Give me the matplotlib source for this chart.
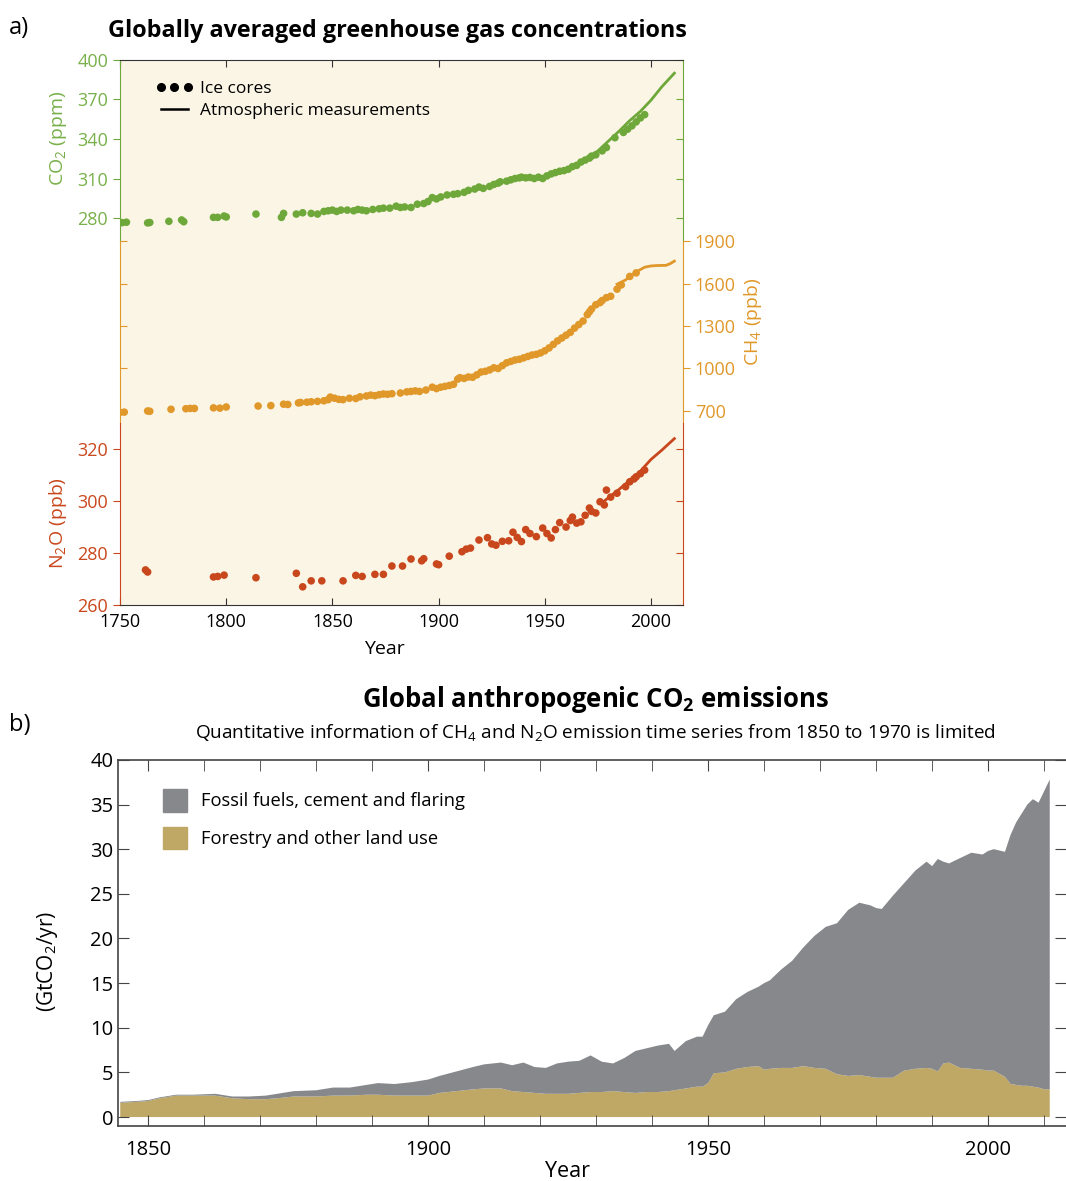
import numpy as np
import matplotlib.pyplot as plt
from matplotlib.lines import Line2D
from matplotlib.patches import Patch
from matplotlib.ticker import MultipleLocator

plt.rcParams['font.family'] = ['Open Sans', 'DejaVu Sans']
plt.rcParams['mathtext.default'] = 'regular'

# ---- panel a data: ice cores (dots) and atmospheric measurements (lines)
co2_ice_years = [1751, 1753, 1763, 1764, 1773, 1779, 1780, 1794, 1796, 1799, 1800, 1814, 1826, 1827,
                 1833, 1836, 1840, 1843, 1846, 1848, 1850, 1852, 1854, 1857, 1860, 1862, 1864, 1866,
                 1869, 1872, 1874, 1877, 1880, 1882, 1884, 1887, 1890, 1893, 1895, 1897, 1899, 1901,
                 1904, 1907, 1909, 1912, 1914, 1917, 1919, 1921, 1924, 1926, 1928, 1929, 1932, 1934,
                 1936, 1938, 1939, 1941, 1943, 1945, 1947, 1949, 1951, 1953, 1955, 1957, 1959, 1961,
                 1963, 1965, 1967, 1969, 1971, 1972, 1974, 1977, 1979, 1983, 1987, 1989, 1991, 1993,
                 1995, 1997]
co2_ice = [276.5, 276.8, 276.3, 276.6, 277.5, 278.5, 277.2, 280.5, 280.5, 281.5, 280.8, 283.0, 280.5, 283.5,
           283.0, 284.0, 283.5, 283.0, 285.0, 285.5, 286.0, 285.0, 286.0, 286.0, 285.5, 286.5, 286.0, 285.5,
           286.5, 287.0, 287.5, 287.5, 289.0, 288.0, 288.4, 288.0, 290.5, 291.0, 292.5, 295.5, 294.5, 296.0,
           297.5, 298.0, 298.5, 299.5, 301.0, 302.0, 303.5, 302.5, 304.0, 305.5, 306.5, 307.5, 308.0, 309.0,
           310.0, 310.5, 311.0, 310.5, 310.8, 310.0, 311.0, 310.0, 312.0, 313.5, 314.5, 315.5, 316.0, 317.0,
           319.0, 320.0, 322.5, 324.0, 325.5, 327.0, 328.0, 331.0, 333.5, 341.0, 345.0, 347.5, 350.0, 353.0,
           356.0, 358.5]
co2_atm_years = [1958, 1960, 1965, 1970, 1975, 1980, 1985, 1990, 1995, 2000, 2005, 2011]
co2_atm = [315.5, 317.0, 320.0, 325.5, 331.0, 338.5, 346.0, 354.0, 361.0, 369.5, 379.5, 390.0]

ch4_ice_years = [1750, 1752, 1763, 1764, 1774, 1781, 1783, 1785, 1794, 1797, 1800, 1815, 1821, 1827,
                 1829, 1834, 1835, 1838, 1840, 1843, 1846, 1848, 1849, 1851, 1853, 1855, 1858, 1861,
                 1863, 1866, 1868, 1870, 1872, 1874, 1876, 1878, 1882, 1885, 1887, 1889, 1891, 1894,
                 1897, 1899, 1901, 1903, 1905, 1907, 1909, 1910, 1912, 1914, 1916, 1918, 1920, 1922,
                 1924, 1926, 1928, 1930, 1932, 1934, 1936, 1938, 1940, 1942, 1944, 1946, 1948, 1950,
                 1952, 1954, 1956, 1958, 1960, 1962, 1964, 1966, 1968, 1970, 1971, 1972, 1974, 1976,
                 1977, 1979, 1981, 1984, 1986, 1990, 1993]
ch4_ice = [690, 692, 700, 698, 712, 716, 718, 718, 722, 720, 728, 735, 738, 748,
           746, 757, 760, 762, 765, 768, 772, 780, 798, 790, 782, 780, 790, 788,
           800, 806, 812, 808, 815, 820, 818, 822, 827, 835, 838, 842, 838, 848,
           868, 858, 868, 874, 880, 888, 925, 935, 930, 940, 938, 955, 975, 980,
           990, 1005, 1000, 1020, 1040, 1050, 1060, 1065, 1075, 1085, 1095, 1100, 1110, 1125,
           1145, 1170, 1195, 1215, 1235, 1255, 1285, 1310, 1335, 1380, 1400, 1420, 1450, 1465,
           1480, 1500, 1510, 1560, 1590, 1650, 1675]
ch4_atm_years = [1984, 1988, 1991, 1994, 1997, 2000, 2003, 2007, 2009, 2011]
ch4_atm = [1595, 1625, 1660, 1690, 1715, 1724, 1727, 1728, 1740, 1758]

n2o_ice_years = [1762, 1763, 1794, 1796, 1799, 1814, 1833, 1836, 1840, 1845, 1855, 1861, 1864, 1870,
                 1874, 1878, 1883, 1887, 1892, 1893, 1899, 1900, 1905, 1911, 1913, 1915, 1919, 1923,
                 1925, 1927, 1930, 1933, 1935, 1937, 1939, 1941, 1943, 1946, 1949, 1951, 1953, 1955,
                 1957, 1960, 1962, 1963, 1965, 1967, 1969, 1971, 1972, 1974, 1976, 1978, 1979, 1981,
                 1984, 1988, 1990, 1992, 1993, 1995, 1997]
n2o_ice = [273.5, 272.7, 270.8, 271.0, 271.5, 270.5, 272.2, 267.0, 269.3, 269.3, 269.3, 271.4, 271.0, 271.8,
           271.8, 275.0, 275.0, 277.7, 277.0, 277.8, 275.8, 275.5, 278.8, 280.5, 281.5, 281.9, 285.0, 285.9,
           283.5, 283.0, 284.5, 284.7, 288.0, 286.0, 284.4, 289.0, 287.5, 286.3, 289.6, 287.5, 285.8, 289.0,
           291.7, 290.0, 292.5, 293.8, 291.5, 292.0, 294.5, 297.3, 296.0, 295.4, 299.7, 298.5, 304.2, 301.5,
           303.0, 305.5, 307.4, 308.5, 309.3, 310.5, 311.9]
n2o_atm_years = [1978, 1985, 1990, 1995, 2000, 2005, 2011]
n2o_atm = [300.0, 304.5, 308.0, 311.5, 316.0, 319.5, 324.0]

co2_ticks = [280, 310, 340, 370, 400]
ch4_ticks = [700, 1000, 1300, 1600, 1900]
n2o_ticks = [260, 280, 300, 320]

# ---- panel b data: GtCO2/yr
em_years = [1845, 1848, 1850, 1852, 1855, 1858, 1862, 1865, 1868, 1871, 1873, 1876, 1880, 1883,
            1886, 1889, 1891, 1894, 1897, 1900, 1902, 1905, 1908, 1910, 1913, 1915, 1917, 1919,
            1921, 1923, 1925, 1927, 1929, 1931, 1933, 1935, 1937, 1939, 1941, 1943, 1944, 1946,
            1948, 1949, 1950, 1951, 1953, 1955, 1957, 1959, 1960, 1961, 1963, 1965, 1967, 1969,
            1971, 1973, 1975, 1977, 1979, 1980, 1981, 1983, 1985, 1987, 1989, 1990, 1991, 1992,
            1993, 1995, 1997, 1999, 2000, 2001, 2003, 2004, 2005, 2006, 2007, 2008, 2009, 2010,
            2011]
folu = [1.6, 1.7, 1.8, 2.1, 2.4, 2.4, 2.4, 2.1, 2.0, 2.0, 2.1, 2.3, 2.3, 2.4,
        2.4, 2.5, 2.5, 2.4, 2.4, 2.4, 2.7, 2.9, 3.1, 3.2, 3.2, 2.9, 2.8, 2.7,
        2.6, 2.6, 2.6, 2.7, 2.8, 2.8, 2.9, 2.8, 2.7, 2.8, 2.8, 2.9, 3.0, 3.2,
        3.4, 3.4, 3.8, 4.9, 5.0, 5.4, 5.6, 5.7, 5.3, 5.4, 5.5, 5.5, 5.7, 5.5,
        5.4, 4.8, 4.6, 4.7, 4.5, 4.4, 4.4, 4.4, 5.2, 5.4, 5.5, 5.4, 5.1, 6.0,
        6.1, 5.5, 5.4, 5.3, 5.2, 5.2, 4.5, 3.7, 3.6, 3.5, 3.5, 3.4, 3.3, 3.1,
        3.1]
fossil = [0.1, 0.1, 0.1, 0.1, 0.1, 0.1, 0.2, 0.2, 0.3, 0.4, 0.5, 0.6, 0.7, 0.9,
          0.9, 1.1, 1.3, 1.3, 1.5, 1.8, 1.9, 2.2, 2.5, 2.7, 2.9, 2.9, 3.3, 2.9,
          2.9, 3.4, 3.6, 3.6, 4.1, 3.4, 3.1, 3.8, 4.7, 4.9, 5.2, 5.3, 4.4, 5.3,
          5.6, 5.6, 6.5, 6.5, 6.8, 7.8, 8.4, 8.9, 9.7, 9.9, 11.0, 12.0, 13.3, 14.8,
          15.9, 16.9, 18.6, 19.3, 19.2, 19.0, 18.9, 20.4, 21.0, 22.2, 23.1, 22.7, 23.8, 22.6,
          22.3, 23.5, 24.2, 24.1, 24.6, 24.8, 25.2, 27.9, 29.4, 30.5, 31.5, 32.2, 31.9, 33.4,
          34.7]

green = '#6fa83a'
green_txt = '#79b04a'
orange = '#e0982a'
red = '#c9471c'
cream = '#fbf5e6'
dark = '#333333'
gray = '#86888b'
tan = '#bfa866'

fig = plt.figure(figsize=(10.66, 11.81), dpi=100)

# ================= panel a =================
rect_a = [0.1126, 0.4877, 0.528, 0.4615]
ax_co2 = fig.add_axes(rect_a)
ax_ch4 = fig.add_axes(rect_a, label='ch4')
ax_n2o = fig.add_axes(rect_a, label='n2o')
ax_co2.set_facecolor(cream)
ax_ch4.set_facecolor('none')
ax_n2o.set_facecolor('none')

for ax in (ax_co2, ax_ch4, ax_n2o):
    ax.set_xlim(1750, 2015)
    for s in ax.spines.values():
        s.set_visible(False)

# each gas gets one third of the panel height
ax_co2.set_ylim(-13.9, 400)
ax_ch4.set_ylim(-670, 3178)
ax_n2o.set_ylim(260, 469.6)
bands = [(ax_co2, green, green_txt, co2_ticks, (262.5, 400), 'left'),
         (ax_ch4, orange, orange, ch4_ticks, (615, 1900), 'right'),
         (ax_n2o, red, red, n2o_ticks, (260, 330), 'left')]
for ax, col, tcol, ticks, bnd, side in bands:
    other = 'right' if side == 'left' else 'left'
    ax.spines[side].set_visible(True)
    ax.spines[side].set_color(col)
    ax.spines[side].set_bounds(*bnd)
    ax.set_yticks(ticks)
    if side == 'right':
        ax.yaxis.tick_right()
    else:
        ax.yaxis.tick_left()
    ax.tick_params(axis='y', direction='out', length=5, color=col, labelcolor=tcol, labelsize=13)
    sec = ax.secondary_yaxis(other)
    sec.set_yticks(ticks)
    sec.tick_params(direction='in', length=5, color=col, labelleft=False, labelright=False)
    sec.spines[other].set_color(col)
    sec.spines[other].set_bounds(*bnd)

ax_co2.spines['top'].set_visible(True)
ax_co2.spines['top'].set_color(dark)
ax_co2.xaxis.tick_top()
ax_co2.set_xticks(range(1750, 2001, 50))
ax_co2.tick_params(axis='x', direction='in', length=5, color=dark, labeltop=False)
ax_ch4.set_xticks([])
ax_n2o.spines['bottom'].set_visible(True)
ax_n2o.spines['bottom'].set_color(dark)
ax_n2o.set_xticks(range(1750, 2001, 50))
ax_n2o.tick_params(axis='x', direction='in', length=5, color=dark, labelsize=13, pad=6)
ax_n2o.set_xlabel('Year', fontsize=14)
ax_n2o.xaxis.set_label_coords(0.47, -0.065)

ax_co2.set_ylabel('CO$_2$ (ppm)', color=green_txt, fontsize=14)
ax_co2.yaxis.set_label_coords(-0.09, 0.857)
ax_ch4.set_ylabel('CH$_4$ (ppb)', color=orange, fontsize=14)
ax_ch4.yaxis.set_label_position('right')
ax_ch4.yaxis.set_label_coords(1.105, 0.52)
ax_n2o.set_ylabel('N$_2$O (ppb)', color=red, fontsize=14)
ax_n2o.yaxis.set_label_coords(-0.09, 0.15)

for ax, yi, vi, ya, va, col in [(ax_co2, co2_ice_years, co2_ice, co2_atm_years, co2_atm, green),
                                (ax_ch4, ch4_ice_years, ch4_ice, ch4_atm_years, ch4_atm, orange),
                                (ax_n2o, n2o_ice_years, n2o_ice, n2o_atm_years, n2o_atm, red)]:
    ax.plot(ya, va, color=col, lw=2)
    ax.scatter(yi, vi, s=30, color=col, edgecolors='none')

leg_a = ax_co2.legend(handles=[Line2D([], [], ls='none', marker='o', ms=5.5, color='black'),
                               Line2D([], [], color='black', lw=1.8)],
                      labels=['Ice cores', 'Atmospheric measurements'], numpoints=3,
                      loc='upper left', bbox_to_anchor=(0.035, 0.99), frameon=False,
                      fontsize=12.5, handlelength=2.2, handletextpad=0.4, labelspacing=0.35)

fig.text(0.373, 0.9735, 'Globally averaged greenhouse gas concentrations', ha='center', va='center',
         fontsize=16.8, fontweight='bold')
fig.text(0.008, 0.976, 'a)', fontsize=17, va='center')

# ================= panel b =================
ax_b = fig.add_axes([0.1107, 0.0466, 0.8893, 0.31])
ax_b.stackplot(em_years, folu, fossil, colors=[tan, gray], lw=0)
ax_b.set_xlim(1844.6, 2013.9)
ax_b.set_ylim(-1.0, 40)
ax_b.spines['right'].set_visible(False)
for s in ('left', 'top', 'bottom'):
    ax_b.spines[s].set_color('#444444')
    ax_b.spines[s].set_linewidth(1.2)
ax_b.set_xticks([1850, 1900, 1950, 2000])
ax_b.xaxis.set_minor_locator(MultipleLocator(10))
ax_b.set_yticks(range(0, 41, 5))
ax_b.tick_params(which='both', direction='in', top=True, right=True, length=8, color='#444444',
                 labelsize=14.5)
ax_b.tick_params(axis='x', pad=10)
ax_b.set_xlabel('Year', fontsize=15.5)
ax_b.xaxis.set_label_coords(0.474, -0.095)
ax_b.set_ylabel('(GtCO$_2$/yr)', fontsize=15)
ax_b.yaxis.set_label_coords(-0.061, 0.45)

ax_b.legend(handles=[Patch(color=gray), Patch(color=tan)],
            labels=['Fossil fuels, cement and flaring', 'Forestry and other land use'],
            loc='upper left', bbox_to_anchor=(0.03, 0.965), frameon=False, fontsize=13.2,
            handlelength=1.3, handleheight=1.5, labelspacing=0.85, handletextpad=0.8)

fig.text(0.559, 0.4073, 'Global anthropogenic CO$_2$ emissions', ha='center', va='center',
         fontsize=18.5, fontweight='bold')
fig.text(0.559, 0.3794, 'Quantitative information of CH$_4$ and N$_2$O emission time series from 1850 to 1970 is limited',
         ha='center', va='center', fontsize=13.7)
fig.text(0.008, 0.386, 'b)', fontsize=17, va='center')

fig.savefig('out.png', dpi=100)
